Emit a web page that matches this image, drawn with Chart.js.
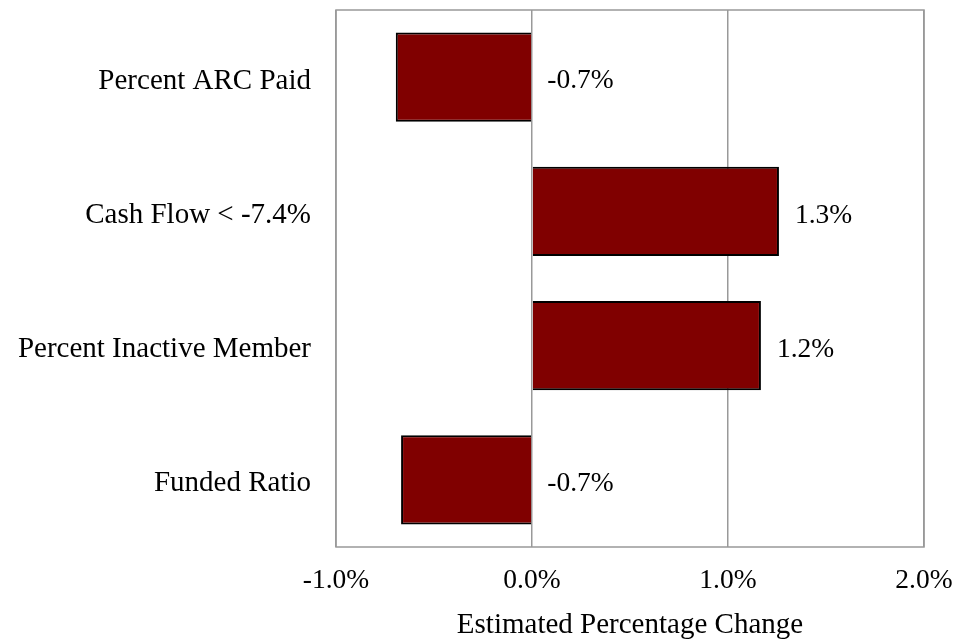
<!DOCTYPE html>
<html>
<head>
<meta charset="utf-8">
<script src="https://cdn.jsdelivr.net/npm/chart.js@4/dist/chart.umd.min.js"></script>
<style>
  html, body { margin: 0; padding: 0; background: #fff; }
  #wrap { width: 955px; height: 640px; }
</style>
</head>
<body>
<div id="wrap"><canvas id="myChart"></canvas></div>
<script>
  // values (percent)
  const categories = ['Percent ARC Paid', 'Cash Flow < -7.4%', 'Percent Inactive Member', 'Funded Ratio']
  const changes = [-0.695, 1.26, 1.168, -0.668]
  const xTicks = [-1, 0, 1, 2]

  const FONT = "'Liberation Serif', 'Times New Roman', serif"

  // grey frame round the plot area
  const frame = {
    id: 'frame',
    beforeDatasetsDraw(chart) {
      const a = chart.chartArea
      const c = chart.ctx
      c.save()
      c.strokeStyle = '#999999'
      c.lineWidth = 1.5
      c.strokeRect(a.left, a.top, a.right - a.left, a.bottom - a.top)
      c.restore()
    }
  }

  // value labels to the right of each bar (or of zero for negatives)
  const valueLabels = {
    id: 'valueLabels',
    afterDatasetsDraw(chart) {
      const c = chart.ctx
      const meta = chart.getDatasetMeta(0)
      c.save()
      c.font = '27.5px ' + FONT
      c.fillStyle = '#000'
      c.textAlign = 'left'
      c.textBaseline = 'middle'
      meta.data.forEach((bar, i) => {
        const x = Math.max(bar.x, bar.base) + 16
        c.fillText(changes[i].toFixed(1) + '%', x, bar.y + 4)
      })
      c.restore()
    }
  }

  const ctx = document.getElementById('myChart')

  new Chart(ctx, {
    type: 'bar',
    data: {
      labels: categories,
      datasets: [{
        data: changes,
        backgroundColor: '#800000',
        borderColor: '#000000',
        borderWidth: 2,
        barPercentage: 0.663,
        categoryPercentage: 1
      }]
    },
    options: {
      indexAxis: 'y',
      responsive: true,
      maintainAspectRatio: false,
      animation: false,
      layout: { padding: { top: 10, right: 31, left: 0, bottom: 0 } },
      plugins: {
        legend: { display: false },
        tooltip: { enabled: false }
      },
      scales: {
        x: {
          min: -1,
          max: 2,
          afterBuildTicks: (s) => { s.ticks = xTicks.map(v => ({ value: v })) },
          afterFit: (s) => {
            s.height = 93
            s.paddingLeft = 0
            s.paddingRight = 0
          },
          grid: { color: '#999999', lineWidth: 1.5, drawTicks: false },
          border: { display: false },
          ticks: {
            padding: 17,
            color: '#000',
            font: { family: FONT, size: 27.5 },
            callback: (v) => v.toFixed(1) + '%'
          },
          title: {
            display: true,
            text: 'Estimated Percentage Change',
            color: '#000',
            font: { family: FONT, size: 29 },
            padding: { top: 0, bottom: -3 }
          }
        },
        y: {
          afterFit: (s) => {
            s.width = 336
            s.paddingTop = 0
            s.paddingBottom = 0
          },
          grid: { display: false, drawTicks: false },
          border: { display: false },
          ticks: {
            padding: 25,
            labelOffset: 4,
            color: '#000',
            font: { family: FONT, size: 29 }
          }
        }
      }
    },
    plugins: [frame, valueLabels]
  })
</script>
</body>
</html>
